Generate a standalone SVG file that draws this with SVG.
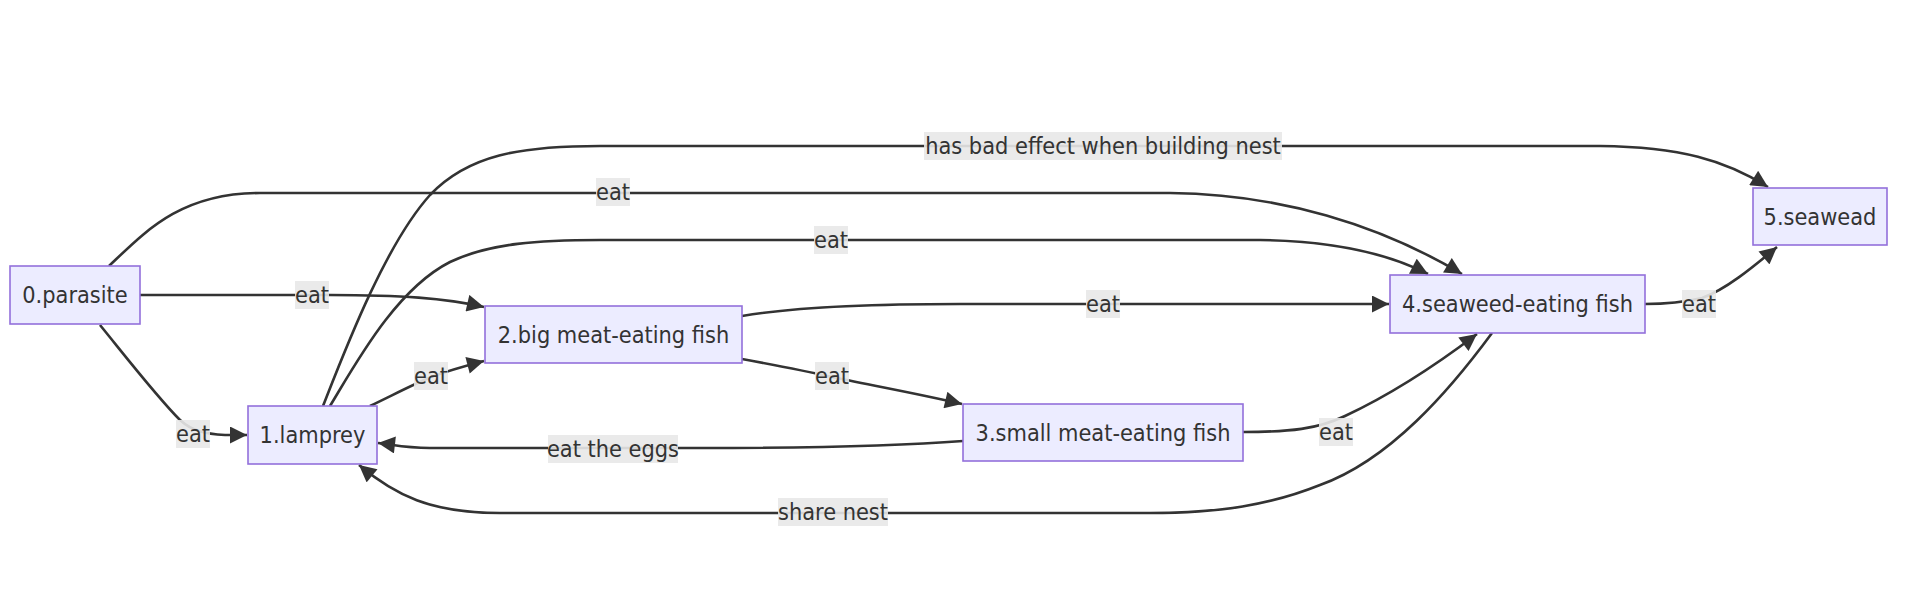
<svg xmlns="http://www.w3.org/2000/svg" width="1906" height="608" viewBox="0 0 1906 608">
<style>
.edge{fill:none;stroke:#333333;stroke-width:2.6;marker-end:url(#arrow)}
.node rect{fill:#ECECFF;stroke:#9370DB;stroke-width:1.6}
.node text{font-family:"DejaVu Sans Condensed","DejaVu Sans",sans-serif;font-stretch:condensed;font-size:23.3px;fill:#333333;text-anchor:middle}
.lbl rect{fill:#e8e8e8;opacity:0.9}
.lbl text{font-family:"DejaVu Sans Condensed","DejaVu Sans",sans-serif;font-stretch:condensed;font-size:23.3px;fill:#333333;text-anchor:middle}
</style>
<defs>
<marker id="arrow" viewBox="0 0 10 10" refX="10" refY="5" markerUnits="userSpaceOnUse" markerWidth="18" markerHeight="17" orient="auto">
<path d="M0,0 L10,5 L0,10 z" fill="#333333"/>
</marker>
</defs>
<rect width="1906" height="608" fill="#ffffff"/>
<g id="connectors">
<path class="edge" d="M100,325 C130,362 158,398 180,420 C192,431 205,434 225,435 L247,435"/>
<path class="edge" d="M140,295 L330,295 C400,295 445,298 484,307"/>
<path class="edge" d="M370,406 C395,394 412,385 431,377 C450,370 465,366 484,361"/>
<path class="edge" d="M323,406 C345,350 385,245 430,195 C468,155 520,146 600,146 L1600,146 C1680,147 1725,160 1768,187"/>
<path class="edge" d="M109,266 C145,232 180,193 260,193 L1170,193 C1280,194 1380,225 1462,274"/>
<path class="edge" d="M330,406 C355,365 395,290 450,262 C490,243 540,240 600,240 L1260,240 C1330,241 1385,252 1428,274"/>
<path class="edge" d="M742,316 C800,306 880,304 960,304 L1389,304"/>
<path class="edge" d="M742,359 C780,366 810,372 832,377 C870,385 920,394 962,404"/>
<path class="edge" d="M963,441 C900,446 800,448 700,448 L430,448 C405,448 395,445 378,443"/>
<path class="edge" d="M1243,432 C1290,432 1318,429 1345,416 C1390,395 1440,362 1477,334"/>
<path class="edge" d="M1492,333 C1450,390 1390,460 1320,485 C1270,505 1220,513 1150,513 L500,513 C430,513 395,495 359,465"/>
<path class="edge" d="M1645,304 C1668,304 1685,302 1702,298 C1725,290 1752,268 1777,247"/>
</g>
<g id="edge-labels">
<g class="lbl"><rect x="176" y="420" width="34" height="28"/><text x="193" y="442">eat</text></g>
<g class="lbl"><rect x="295" y="281" width="34" height="28"/><text x="312" y="303">eat</text></g>
<g class="lbl"><rect x="414" y="362" width="34" height="28"/><text x="431" y="384">eat</text></g>
<g class="lbl"><rect x="924" y="132" width="358" height="28"/><text x="1103" y="154">has bad effect when building nest</text></g>
<g class="lbl"><rect x="596" y="178" width="34" height="28"/><text x="613" y="200">eat</text></g>
<g class="lbl"><rect x="814" y="226" width="34" height="28"/><text x="831" y="248">eat</text></g>
<g class="lbl"><rect x="1086" y="290" width="34" height="28"/><text x="1103" y="312">eat</text></g>
<g class="lbl"><rect x="815" y="362" width="34" height="28"/><text x="832" y="384">eat</text></g>
<g class="lbl"><rect x="548" y="435" width="130" height="28"/><text x="613" y="457">eat the eggs</text></g>
<g class="lbl"><rect x="1319" y="418" width="34" height="28"/><text x="1336" y="440">eat</text></g>
<g class="lbl"><rect x="1682" y="290" width="34" height="28"/><text x="1699" y="312">eat</text></g>
<g class="lbl"><rect x="778" y="498" width="110" height="28"/><text x="833" y="520">share nest</text></g>
</g>
<g id="node0" class="node"><rect x="10" y="266" width="130" height="58"/><text x="75" y="303">0.parasite</text></g>
<g id="node1" class="node"><rect x="248" y="406" width="129" height="58"/><text x="312.5" y="443">1.lamprey</text></g>
<g id="node2" class="node"><rect x="485" y="306" width="257" height="57"/><text x="613.5" y="342.5">2.big meat-eating fish</text></g>
<g id="node3" class="node"><rect x="963" y="404" width="280" height="57"/><text x="1103" y="440.5">3.small meat-eating fish</text></g>
<g id="node4" class="node"><rect x="1390" y="275" width="255" height="58"/><text x="1517.5" y="312">4.seaweed-eating fish</text></g>
<g id="node5" class="node"><rect x="1753" y="188" width="134" height="57"/><text x="1820" y="224.5">5.seawead</text></g>
</svg>
